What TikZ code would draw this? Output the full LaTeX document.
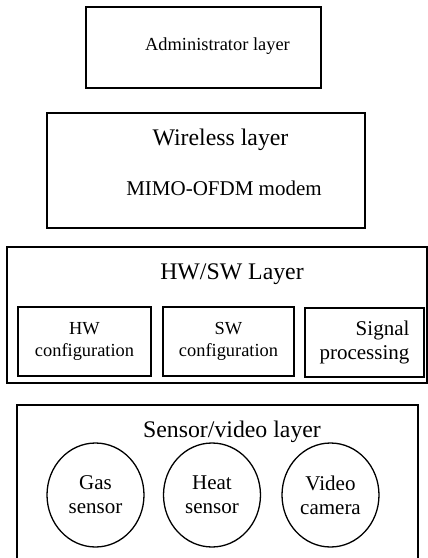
\documentclass[tikz,border=0pt]{standalone}
\usepackage{fontspec}
\setmainfont{Liberation Serif}
\usetikzlibrary{shapes.geometric, positioning, calc}

\begin{document}
\begin{tikzpicture}[
  x=1pt, y=-1pt,
  layer/.style  = {rectangle, draw=black, line width=1.9pt, inner sep=0pt},
  part/.style   = {rectangle, draw=black, line width=1.6pt, inner sep=0pt,
                   minimum height=69pt},
  sensor/.style = {ellipse, draw=black, line width=1.3pt, inner sep=0pt,
                   minimum width=97pt, minimum height=104pt},
  title/.style  = {font=\fontsize{23.8}{26}\selectfont, inner sep=0pt},
  small/.style  = {font=\fontsize{18.4}{22}\selectfont, align=center, inner sep=0pt},
  mid/.style    = {font=\fontsize{21}{24}\selectfont, align=center, inner sep=0pt}
]
\useasboundingbox (0,0) rectangle (428,558);

% administrator layer
\node[layer, minimum width=235pt, minimum height=81pt] (admin) at (203.5,47.5) {};
\node[small] (admintxt) at (217.5,46) {Administrator layer};

% wireless layer
\node[layer, minimum width=318pt, minimum height=115pt] (wireless) at (206,170.5) {};
\node[title] (wirelesstxt) at (220.5,140) {Wireless layer};
\node[mid] (modem) at (224,188) {MIMO-OFDM modem};

% hw/sw layer
\node[layer, minimum width=420pt, minimum height=136pt] (hwsw) at (217,315) {};
\node[title] (hwswtxt) at (232,274) {HW/SW Layer};
\node[part, small, minimum width=133pt] (hwcfg)  at (84.5,341.5)  {HW\\configuration};
\node[part, small, minimum width=131pt] (swcfg)  at (228.5,341.5) {SW\\configuration};
\node[part, mid, align=right, minimum width=119pt] (sigproc) at (364.5,342.5) {Signal\\processing};

% sensor/video layer
\node[layer, minimum width=401pt, minimum height=160pt] (sensors) at (217.5,485) {};
\node[title] (sensorstxt) at (232,432) {Sensor/video layer};
\node[sensor, mid] (gas)   at (95.5,495)  {Gas\\sensor};
\node[sensor, mid] (heat)  at (212,495)   {Heat\\sensor};
\node[sensor, mid] (video) at (330.5,495) {Video\\camera};

\end{tikzpicture}
\end{document}
